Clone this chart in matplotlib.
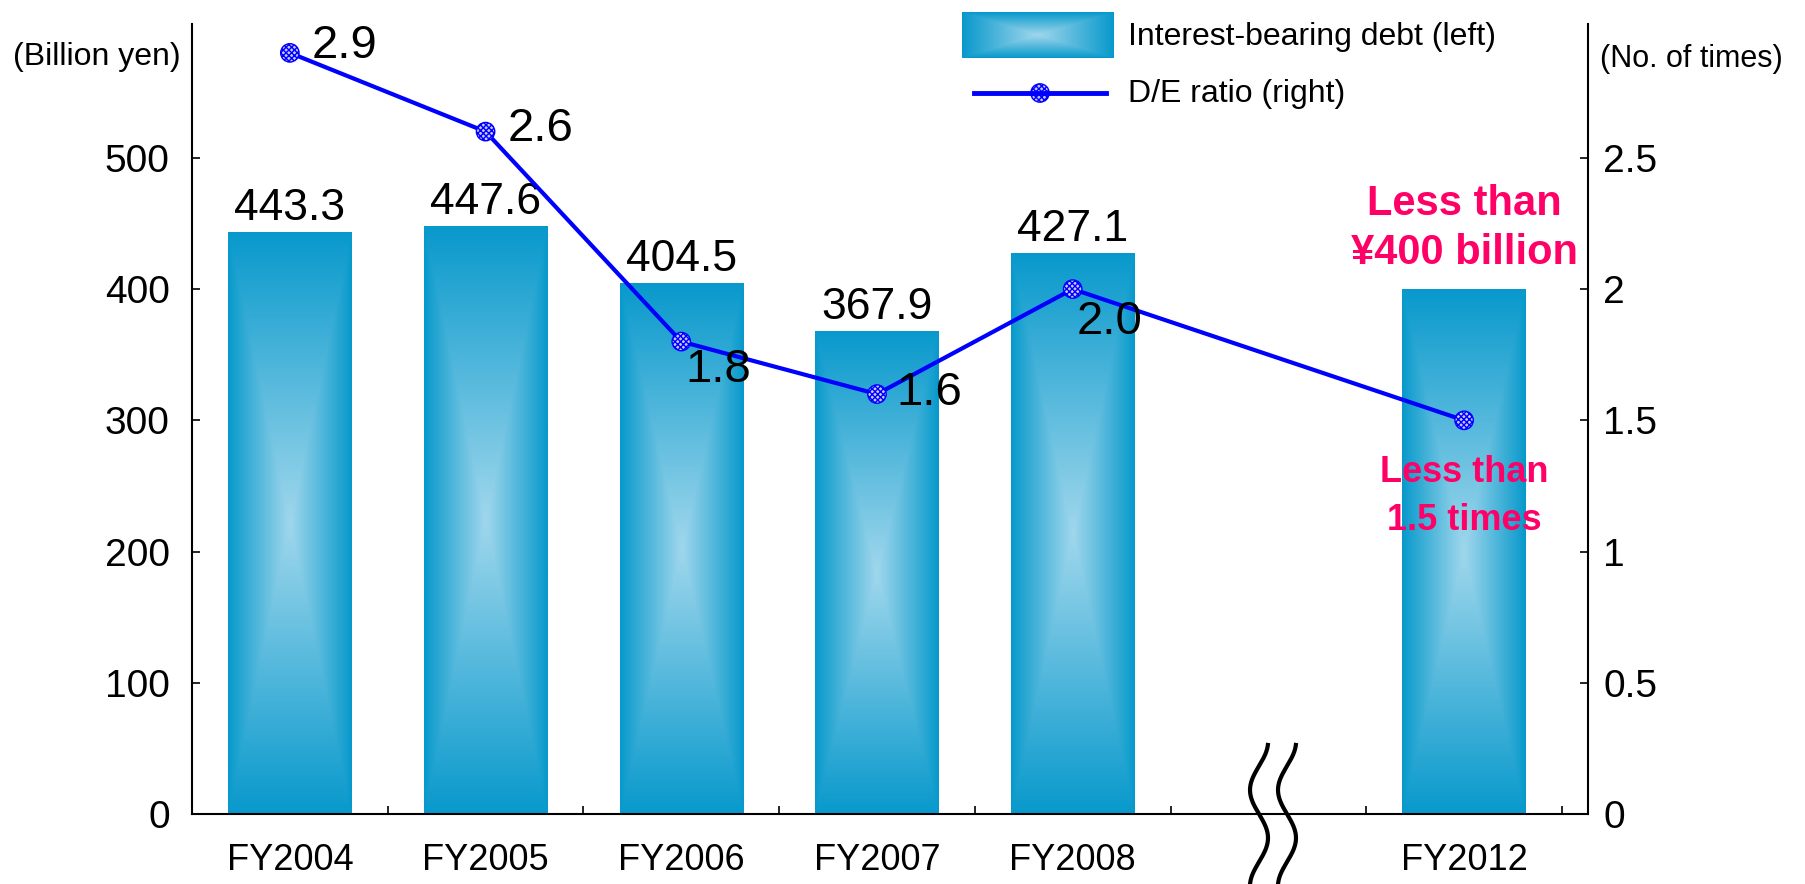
import numpy as np
import matplotlib.pyplot as plt
from matplotlib.lines import Line2D

plt.rcParams['font.family'] = ['Liberation Sans', 'DejaVu Sans']
plt.rcParams['hatch.color'] = '#0000ff'
plt.rcParams['hatch.linewidth'] = 1.0

years = ['FY2004', 'FY2005', 'FY2006', 'FY2007', 'FY2008', 'FY2012']
slots = [0, 1, 2, 3, 4, 6]          # slot 5 stays empty for the axis break
debt = [443.3, 447.6, 404.5, 367.9, 427.1, 400]
debt_labels = ['443.3', '447.6', '404.5', '367.9', '427.1', None]
de_ratio = [2.9, 2.6, 1.8, 1.6, 2.0, 1.5]
de_labels = ['2.9', '2.6', '1.8', '1.6', '2.0', None]
left_ticks = [0, 100, 200, 300, 400, 500]
right_ticks = [0, 0.5, 1, 1.5, 2, 2.5]

# where each ratio label sits relative to its marker (points)
de_offsets = [(16, -4), (16, -6.5), (3, -29), (14, -8), (3, -32)]

EDGE = np.array([8, 153, 204]) / 255
CENTER = np.array([160, 215, 236]) / 255
BLUE = '#0000ff'
PINK = '#ff0066'


def box_gradient(nx, ny):
    # rectangular "from centre" fill: dark rim, light middle
    U, V = np.meshgrid(np.linspace(-1, 1, nx), np.linspace(-1, 1, ny))
    t = 1 - np.maximum(np.abs(U), np.abs(V))
    return EDGE + (CENTER - EDGE) * t[..., None]


W, H = 1805, 884
fig = plt.figure(figsize=(W / 100, H / 100), dpi=100)
ax = fig.add_axes([192 / W, 70 / H, 1396 / W, 790 / H])
XLIM = (-0.5, 6.633)
YLIM = (0, 602)

bars = ax.bar(slots, debt, width=0.63, color='none', linewidth=0)
grad = box_gradient(120, 400)
for rect, lab in zip(bars, debt_labels):
    x0, y0 = rect.get_x(), rect.get_y()
    ax.imshow(grad, extent=(x0, x0 + rect.get_width(), y0, y0 + rect.get_height()),
              aspect='auto', interpolation='bilinear', zorder=1)
    if lab:
        ax.annotate(lab, (x0 + rect.get_width() / 2, rect.get_height()),
                    xytext=(0, 9), textcoords='offset points',
                    ha='center', va='baseline', fontsize=32)

ax.set_xlim(*XLIM)
ax.set_ylim(*YLIM)
ax.set_yticks(left_ticks)
ax.set_xticks(slots, years)
ax.set_xticks(np.arange(0.5, 6.6, 1), minor=True)
ax.tick_params(axis='y', direction='in', length=6, width=1.2, labelsize=28, pad=16)
ax.tick_params(axis='x', which='major', length=0, labelsize=26, pad=21)
ax.tick_params(axis='x', which='minor', direction='in', length=6, width=1.2)
ax.spines['top'].set_visible(False)
ax.spines['right'].set_visible(False)
for s in ('left', 'bottom'):
    ax.spines[s].set_linewidth(1.5)

# D/E ratio on the right axis
ax2 = ax.twinx()
ax2.plot(slots, de_ratio, color=BLUE, lw=3, zorder=2)
ax2.scatter(slots, de_ratio, s=175, facecolor='#c8c8ff', edgecolor=BLUE,
            hatch='xxxxxx', linewidth=1, zorder=3)
for x, y, lab, off in zip(slots, de_ratio, de_labels, de_offsets):
    ax2.annotate(lab, (x, y), xytext=off, textcoords='offset points',
                 ha='left', va='baseline', fontsize=34, zorder=4)
ax2.set_ylim(YLIM[0] / 200, YLIM[1] / 200)
ax2.set_yticks(right_ticks, [f'{v:g}' for v in right_ticks])
ax2.tick_params(axis='y', direction='in', length=6, width=1.2, labelsize=28, pad=11)
for s in ('top', 'left', 'bottom'):
    ax2.spines[s].set_visible(False)
ax2.spines['right'].set_linewidth(1.5)

# targets for FY2012
ax.text(6, 446, 'Less than\n¥400 billion', ha='center', va='center',
        fontsize=30, fontweight='bold', color=PINK, linespacing=1.3, zorder=5)
ax.text(6, 242, 'Less than\n1.5 times', ha='center', va='center',
        fontsize=26, fontweight='bold', color=PINK, linespacing=1.45, zorder=5)

# axis break between FY2008 and FY2012
yw = np.linspace(-52.6, 52.6, 200)
for xc in (4.952, 5.095):
    ax.plot(xc - 0.046 * np.sin(2 * np.pi * yw / 73.1), yw, color='black',
            lw=3, clip_on=False, zorder=6)
ax.set_xlim(*XLIM)
ax.set_ylim(*YLIM)

# unit captions
fig.text(181 / W, 1 - 57 / H, '(Billion yen)', ha='right', va='center', fontsize=23)
fig.text(1600 / W, 1 - 59 / H, '(No. of times)', ha='left', va='center', fontsize=22)

# legend drawn by hand
fig.figimage(box_gradient(152, 46), xo=962, yo=H - 58)
fig.text(1128 / W, 1 - 37 / H, 'Interest-bearing debt (left)', ha='left',
         va='center', fontsize=23)
fig.add_artist(Line2D([974 / W, 1106 / W], [1 - 93 / H] * 2, color=BLUE, lw=3.5))
ax2.scatter([1040 / W], [1 - 93 / H], s=175, facecolor='#c8c8ff', edgecolor=BLUE,
            hatch='xxxxxx', linewidth=1, transform=fig.transFigure,
            clip_on=False, zorder=7)
fig.text(1128 / W, 1 - 94 / H, 'D/E ratio (right)', ha='left', va='center', fontsize=23)
ax2.set_ylim(YLIM[0] / 200, YLIM[1] / 200)

fig.savefig('out.png', dpi=100)
